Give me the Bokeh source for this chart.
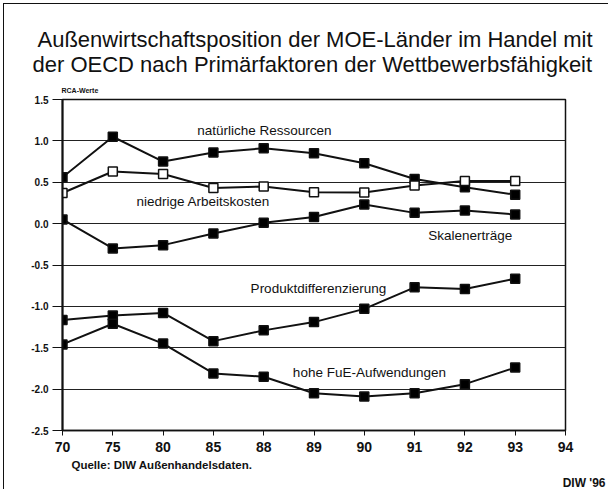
from bokeh.plotting import figure
from bokeh.models import Label, FixedTicker, Range1d, Title
from bokeh.embed import file_html
from bokeh.resources import INLINE

years = ["70", "75", "80", "85", "88", "89", "90", "91", "92", "93"]
tick_labels = ["70", "75", "80", "85", "88", "89", "90", "91", "92", "93", "94"]

natuerliche_ressourcen = [0.56, 1.05, 0.75, 0.86, 0.91, 0.85, 0.73, 0.54, 0.44, 0.35]
niedrige_arbeitskosten = [0.37, 0.63, 0.60, 0.43, 0.45, 0.38, 0.375, 0.46, 0.515, 0.515]
skalenertraege = [0.05, -0.30, -0.26, -0.12, 0.01, 0.08, 0.23, 0.13, 0.16, 0.11]
produktdifferenzierung = [-1.165, -1.11, -1.08, -1.42, -1.29, -1.19, -1.03, -0.77, -0.79, -0.665]
hohe_fue = [-1.46, -1.21, -1.45, -1.81, -1.85, -2.05, -2.09, -2.05, -1.94, -1.74]

y_ticks = [1.5, 1.0, 0.5, 0.0, -0.5, -1.0, -1.5, -2.0, -2.5]

title_line1 = "Außenwirtschaftsposition der MOE-Länder im Handel mit"
title_line2 = "der OECD nach Primärfaktoren der Wettbewerbsfähigkeit"
y_label = "RCA-Werte"
source_note = "Quelle: DIW Außenhandelsdaten."
credit = "DIW '96"

xs = list(range(len(years)))
FONT = "Liberation Sans"
INK = "#111"

p = figure(width=605, height=486, output_backend="svg", toolbar_location=None,
           x_range=Range1d(0, len(tick_labels) - 1), y_range=Range1d(-2.5, 1.5),
           min_border_left=58, min_border_right=44, min_border_top=95, min_border_bottom=55,
           title=None)
p.styles = {"border-left": "1.5px solid #111", "border-top": "1.5px solid #111",
            "margin-left": "3px", "margin-top": "3px"}

p.outline_line_color = INK
p.outline_line_width = 1.5
p.background_fill_color = "white"
p.border_fill_color = "white"

p.xgrid.visible = False
p.ygrid.ticker = FixedTicker(ticks=y_ticks)
p.ygrid.grid_line_color = "#222"
p.ygrid.grid_line_width = 1

p.xaxis.ticker = FixedTicker(ticks=list(range(len(tick_labels))))
p.xaxis.major_label_overrides = {i: t for i, t in enumerate(tick_labels)}
p.xaxis.major_label_text_font = FONT
p.xaxis.major_label_text_font_style = "bold"
p.xaxis.major_label_text_font_size = "14px"
p.xaxis.major_label_text_color = INK
p.xaxis.major_tick_out = 5
p.xaxis.major_tick_in = 0
p.xaxis.minor_tick_line_color = None
p.xaxis.axis_line_width = 1.5
p.xaxis.axis_line_color = INK
p.xaxis.major_tick_line_color = INK
p.xaxis.major_label_standoff = 6

p.yaxis.ticker = FixedTicker(ticks=y_ticks)
p.yaxis.major_label_overrides = {t: f"{t:.1f}" for t in y_ticks}
p.yaxis.major_label_text_font = FONT
p.yaxis.major_label_text_font_style = "bold"
p.yaxis.major_label_text_font_size = "10px"
p.yaxis.major_label_text_color = INK
p.yaxis.major_tick_out = 10
p.yaxis.major_tick_in = 0
p.yaxis.minor_tick_line_color = None
p.yaxis.axis_line_width = 2
p.yaxis.axis_line_color = INK
p.yaxis.major_tick_line_color = INK
p.yaxis.major_label_standoff = 4

series = [
    (natuerliche_ressourcen, "black"),
    (niedrige_arbeitskosten, "white"),
    (skalenertraege, "black"),
    (produktdifferenzierung, "black"),
    (hohe_fue, "black"),
]
for vals, fill in series:
    p.line(xs, vals, line_color=INK, line_width=2)
    p.scatter(xs, vals, marker="square", size=9, fill_color=fill,
              line_color=INK, line_width=1.5)

annotations = [
    ("natürliche Ressourcen", 2.68, 1.13),
    ("niedrige Arbeitskosten", 1.47, 0.27),
    ("Skalenerträge", 7.27, -0.14),
    ("Produktdifferenzierung", 3.74, -0.78),
    ("hohe FuE-Aufwendungen", 4.58, -1.80),
]
for txt, x, y in annotations:
    p.add_layout(Label(x=x, y=y, text=txt, text_font=FONT, text_font_size="13.5px",
                       text_baseline="middle", text_align="left", text_color=INK))

# Above the frame: added innermost first
p.add_layout(Title(text=y_label, text_font=FONT, text_font_size="7px", text_font_style="bold",
                   align="left", offset=-1, standoff=12, text_color=INK), "above")
p.add_layout(Title(text=title_line2, text_font=FONT, text_font_size="22px",
                   text_font_style="normal", align="left", offset=-30, standoff=4,
                   text_color=INK), "above")
p.add_layout(Title(text=title_line1, text_font=FONT, text_font_size="22px",
                   text_font_style="normal", align="left", offset=-25, standoff=-8,
                   text_color=INK), "above")

# Below the frame
p.add_layout(Title(text=source_note, text_font=FONT, text_font_size="11.5px", text_font_style="bold",
                   align="left", offset=9, standoff=5, text_color=INK), "below")
p.add_layout(Title(text=credit, text_font=FONT, text_font_size="12px", text_font_style="bold",
                   align="right", offset=-40, standoff=1, text_color=INK), "below")

open("out.html", "w").write(file_html(p, INLINE))
